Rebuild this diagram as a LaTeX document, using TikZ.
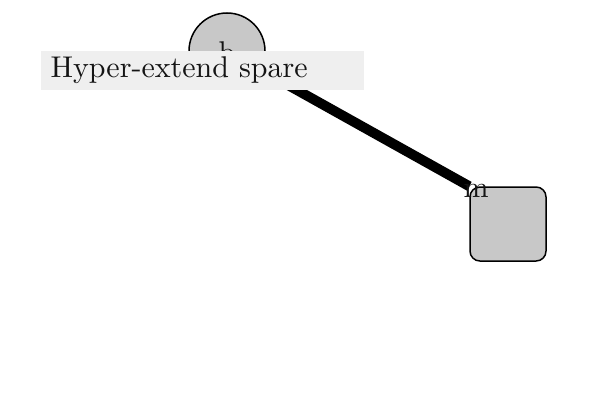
\documentclass[tikz,border=0pt]{standalone}
\begin{document}
\begin{tikzpicture}[x=0.3333pt,y=-0.3333pt,
  shapefill/.style={fill={rgb,255:red,200;green,200;blue,200},draw=black,line width=0.5pt},
  tag/.style={fill={rgb,255:red,239;green,239;blue,239},inner sep=0pt,minimum width=323*0.3333pt,minimum height=39*0.3333pt,text width=303*0.3333pt,align=left,text={rgb,255:red,20;green,20;blue,20}},
  link/.style={line width=3.3pt}]
\useasboundingbox (0,0) rectangle (600,400);
\coordinate (c) at (227,51);
\node[shapefill,rounded corners=3.3pt,minimum width=76*0.3333pt,minimum height=74*0.3333pt,inner sep=0pt] (m) at (508,224) {};
\draw[link] (c) -- (m.north west);
\node[shapefill,circle,minimum size=76*0.3333pt,inner sep=0pt] (b) at (c) {};
\node[inner sep=0pt,text={rgb,255:red,20;green,20;blue,20}] (bl) at (227,52) {b};
\node[inner sep=0pt,text={rgb,255:red,20;green,20;blue,20}] (ml) at (476,191) {m};
\node[tag,anchor=north west] (t) at (40,50) {Hyper-extend spare};
\end{tikzpicture}
\end{document}
